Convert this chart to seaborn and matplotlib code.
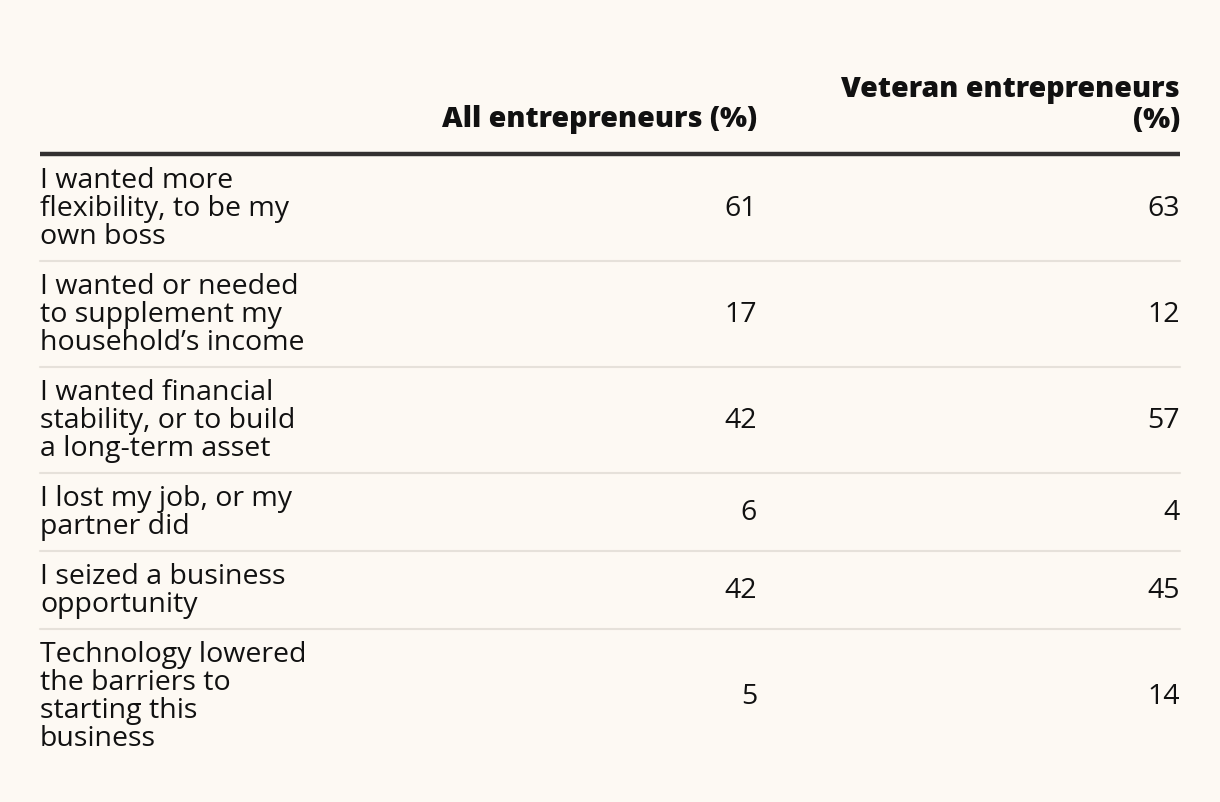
import matplotlib
matplotlib.use("Agg")
import matplotlib.pyplot as plt
import seaborn as sns

# ---- data ----
reasons = [
    "I wanted more\nflexibility, to be my\nown boss",
    "I wanted or needed\nto supplement my\nhousehold\u2019s income",
    "I wanted financial\nstability, or to build\na long-term asset",
    "I lost my job, or my\npartner did",
    "I seized a business\nopportunity",
    "Technology lowered\nthe barriers to\nstarting this\nbusiness",
]
all_entrepreneurs = [61, 17, 42, 6, 42, 5]
veteran_entrepreneurs = [63, 12, 57, 4, 45, 14]
col_headers = ["All entrepreneurs (%)", "Veteran entrepreneurs\n(%)"]

# ---- style ----
BG = "#fdf9f3"
sns.set_theme(style="white")
plt.rcParams["font.family"] = ["Open Sans", "DejaVu Sans"]

W, H = 1220, 802
fig = plt.figure(figsize=(W / 100, H / 100), dpi=100, facecolor=BG)
ax = fig.add_axes([0, 0, 1, 1])
ax.set_facecolor(BG)
ax.set_xlim(0, W)
ax.set_ylim(H, 0)
ax.axis("off")

LEFT, COL1, COL2 = 40, 757, 1180
LINE_H = 28
FS = 20.5
HFS = 20.5
TXT = "#111111"

# headers
ax.text(COL1, 120, col_headers[0], ha="right", va="center", fontsize=HFS,
        fontweight="heavy", color=TXT)
for i, ln in enumerate(col_headers[1].split("\n")):
    ax.text(COL2, 90 + i * 31, ln, ha="right", va="center", fontsize=HFS,
            fontweight="heavy", color=TXT)

ax.plot([LEFT, COL2], [154, 154], color="#333030", lw=3.2, solid_capstyle="butt")

y = 155
for r, (lab, a, v) in enumerate(zip(reasons, all_entrepreneurs, veteran_entrepreneurs)):
    lines = lab.split("\n")
    h = len(lines) * LINE_H + 22
    cy = y + h / 2
    start = cy - (len(lines) - 1) * LINE_H / 2
    for i, ln in enumerate(lines):
        ax.text(LEFT, start + i * LINE_H + 1, ln, ha="left", va="center",
                fontsize=FS, color=TXT)
    ax.text(COL1, cy + 1, str(a), ha="right", va="center", fontsize=FS, color=TXT)
    ax.text(COL2, cy + 1, str(v), ha="right", va="center", fontsize=FS, color=TXT)
    y += h
    if r < len(reasons) - 1:
        ax.plot([LEFT, COL2], [y, y], color="#e6e1da", lw=1.5)

fig.savefig("out.png", dpi=100, facecolor=BG)
